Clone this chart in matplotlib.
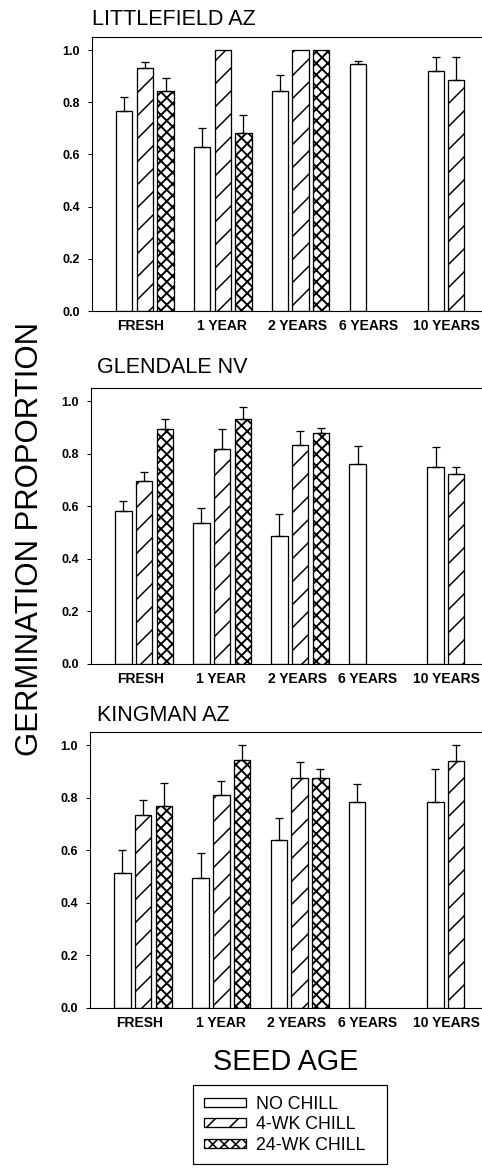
import numpy as np
import matplotlib.pyplot as plt

# rendered at a low dpi so the hatch spacing matches the scan
DPI = 69
K = 100.0/DPI          # sizes below are given as points at 100 dpi
PT = 72.0/DPI          # points per pixel

plt.rcParams['font.family'] = ['Liberation Sans', 'DejaVu Sans']
plt.rcParams['hatch.linewidth'] = 1.6*PT

nan = np.nan

ages = ["FRESH", "1 YEAR", "2 YEARS", "6 YEARS", "10 YEARS"]
treatments = ["NO CHILL", "4-WK CHILL", "24-WK CHILL"]
sites = ["LITTLEFIELD AZ", "GLENDALE NV", "KINGMAN AZ"]

# rows: no chill, 4-wk chill, 24-wk chill ; cols: seed age
littlefield_mean = [[0.766, 0.630, 0.844, 0.945, 0.921],
                    [0.930, 1.000, 1.000, nan, 0.884],
                    [0.844, 0.681, 1.000, nan, nan]]
littlefield_err = [[0.053, 0.070, 0.060, 0.013, 0.053],
                   [0.023, 0.0, 0.0, nan, 0.088],
                   [0.050, 0.070, 0.0, nan, nan]]

glendale_mean = [[0.581, 0.537, 0.487, 0.760, 0.751],
                 [0.697, 0.819, 0.833, nan, 0.723],
                 [0.893, 0.933, 0.879, nan, nan]]
glendale_err = [[0.038, 0.057, 0.084, 0.069, 0.075],
                [0.035, 0.074, 0.054, nan, 0.028],
                [0.040, 0.044, 0.017, nan, nan]]

kingman_mean = [[0.513, 0.493, 0.641, 0.783, 0.783],
                [0.736, 0.809, 0.875, nan, 0.939],
                [0.768, 0.945, 0.875, nan, nan]]
kingman_err = [[0.088, 0.096, 0.083, 0.070, 0.128],
               [0.054, 0.053, 0.059, nan, 0.061],
               [0.088, 0.055, 0.033, nan, nan]]

means = [littlefield_mean, glendale_mean, kingman_mean]
errs = [littlefield_err, glendale_err, kingman_err]

hatches = ['', '/', 'xx']
hatch_lw = [1.0, 1.5, 1.9]   # pixels

W, H = 482, 1172
fig = plt.figure(figsize=(W/DPI, H/DPI), dpi=DPI)

# panel boxes in pixels: left, top, bottom
boxes = [(92, 37, 311), (91, 388, 664), (90, 732, 1008)]
title_off = [(0, 12), (6, 15), (7, 11)]
label_pos = [-0.05, 0.99, 1.96, 2.87, 3.87]

x = np.arange(len(ages))
for i in range(3):
    l, t, b = boxes[i]
    ax = fig.add_axes([l/W, 1 - b/H, (W - l)/W, (b - t)/H])
    for j in range(3):
        m = np.array(means[i][j], float)
        e = np.array(errs[i][j], float)
        ok = ~np.isnan(m)
        xs = x + (j - 1)*0.265
        bars = ax.bar(xs[ok], m[ok], width=0.21, color='white', edgecolor='black',
                      linewidth=1.3*PT, hatch=hatches[j], label=treatments[j])
        for p in bars:
            if hasattr(p, 'set_hatch_linewidth'):
                p.set_hatch_linewidth(hatch_lw[j]*PT)
        has_e = ok & (np.nan_to_num(e) > 0)
        ax.errorbar(xs[has_e], m[has_e], yerr=[np.zeros(has_e.sum()), e[has_e]],
                    fmt='none', ecolor='black', elinewidth=1.3*PT,
                    capsize=4*PT, capthick=1.3*PT)

    ax.set_xlim(-0.68, 4.33)
    ax.set_ylim(0, 1.05)
    ax.set_yticks(np.arange(0, 1.01, 0.2))
    ax.set_yticklabels(["%.1f" % v for v in np.arange(0, 1.01, 0.2)],
                       fontsize=9*K, fontweight='bold')
    ax.set_xticks(label_pos)
    ax.set_xticklabels(ages, fontsize=10*K, fontweight='bold')
    ax.tick_params(axis='x', length=0, pad=8*PT)
    ax.tick_params(axis='y', length=4*PT, width=1.0*PT, pad=8*PT)
    ax.spines['right'].set_visible(False)
    for s in ['left', 'top', 'bottom']:
        ax.spines[s].set_linewidth(1.1*PT)

    dx, dy = title_off[i]
    ax.annotate(sites[i], xy=(0, 1), xycoords='axes fraction',
                xytext=(dx*PT, dy*PT), textcoords='offset points',
                ha='left', va='baseline', fontsize=15.5*K)

fig.text(30/W, 1 - 539/H, "GERMINATION PROPORTION", rotation=90,
         ha='center', va='center', fontsize=22.4*K)
fig.text(286/W, 1 - 1062/H, "SEED AGE", ha='center', va='center', fontsize=20.7*K)

handles, labels = ax.get_legend_handles_labels()
leg = fig.legend(handles, labels, loc='upper left',
                 bbox_to_anchor=(193/W, 1 - 1085/H, 194/W, 0),
                 bbox_transform=fig.transFigure, mode='expand',
                 frameon=True, fancybox=False, edgecolor='black', framealpha=1,
                 fontsize=12.8*K, handlelength=2.4, handleheight=0.4,
                 handletextpad=0.55, labelspacing=0.2, borderpad=0.6,
                 borderaxespad=0)
leg.get_frame().set_linewidth(1.2*PT)

fig.savefig("out.png", dpi=DPI)
